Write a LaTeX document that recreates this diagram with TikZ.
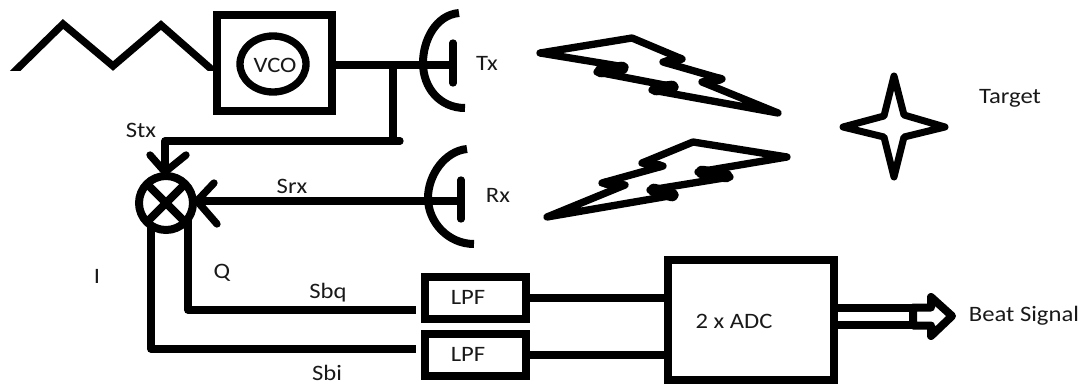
\documentclass[tikz,border=0pt]{standalone}
\usepackage{fontspec}
\usetikzlibrary{shapes.geometric}
\setmainfont[FakeStretch=1.12]{Carlito}
\tikzset{
  wire/.style={line width=6pt,line cap=butt,line join=miter},
  thick wire/.style={line width=5.5pt,line cap=round,line join=round},
  blockbox/.style={draw,line width=6pt,rectangle,inner sep=0pt,outer sep=0pt},
  lab/.style={inner sep=0pt,font=\fontsize{16.5pt}{18pt}\selectfont,text=black!90},
  bolt/.style={line width=5.5pt,line join=round,line cap=round},
}
\begin{document}
\begin{tikzpicture}[x=0.75pt,y=-0.75pt]
\useasboundingbox (0,0) rectangle (1085,385);
% blocks
\node[blockbox,minimum width=115*0.75pt,minimum height=96*0.75pt] (vco) at (274.5,63) {};
\node[draw,ellipse,line width=5.5pt,minimum width=66*0.75pt,minimum height=56*0.75pt,inner sep=0pt,outer sep=0pt] (osc) at (273,64) {};
\node[lab] (vcot) at (275,65) {VCO};
\node[blockbox,minimum width=101*0.75pt,minimum height=42*0.75pt] (lpfa) at (475.5,298) {};
\node[blockbox,minimum width=101*0.75pt,minimum height=42*0.75pt] (lpfb) at (475.5,355) {};
\node[blockbox,minimum width=166*0.75pt,minimum height=120*0.75pt] (adc) at (751,320) {};
\node[draw,circle,line width=6pt,minimum size=54*0.75pt,inner sep=0pt,outer sep=0pt] (mix) at (166,203) {};
\draw[wire] (mix.45) -- (mix.225) (mix.135) -- (mix.-45);
% ramp
\coordinate (r0) at (12,74);
\coordinate (r1) at (63,24);
\coordinate (r2) at (113,66);
\coordinate (r3) at (161,25);
\coordinate (r4) at (218,75);
\begin{scope}
\clip (0,0) rectangle (214,71);
\draw[line width=5.5pt,line join=miter] (r0) -- (r1) -- (r2) -- (r3) -- (r4);
\end{scope}
% Tx antenna
\coordinate (txf) at (453,65);
\coordinate (txa) at (459,13);
\coordinate (txb) at (465,108);
\coordinate (txt) at (453,43);
\coordinate (txu) at (453,83);
\coordinate (jn) at (393,65);
\coordinate (jd) at (393,141);
\coordinate (je) at (400,141);
\draw[wire] (txa) .. controls (436,15) and (423,40) .. (423,63) .. controls (423,88) and (440,108) .. (txb);
\draw[thick wire] (txt) -- (txu);
\draw[wire] (vco.east |- txf) -- (txf);
\draw[wire] (jn) -- (jd);
\draw[thick wire] (je) -- (165,141) -- (165,168);
\draw[thick wire] (150,155) -- (165,172) -- (186,155);
% Rx antenna
\coordinate (rxf) at (461,201);
\coordinate (rxa) at (467,149);
\coordinate (rxb) at (474,244);
\coordinate (rxt) at (461,180);
\coordinate (rxu) at (461,219);
\draw[wire] (rxa) .. controls (445,151) and (428,175) .. (428,198) .. controls (428,222) and (448,244) .. (rxb);
\draw[thick wire] (rxt) -- (rxu);
\draw[wire] (rxf) -- (mix.east |- rxf);
\draw[thick wire] (214,183) -- (197,201) -- (217,224);
% baseband
\coordinate (qe) at (416,310);
\coordinate (ie) at (416,349);
\draw[thick wire] (mix.-36) -- (mix.-36 |- qe) -- (380,310);
\draw[wire] (380,310) -- (qe);
\draw[thick wire] (mix.236) -- (mix.236 |- ie) -- (380,349);
\draw[wire] (380,349) -- (ie);
\draw[wire] (lpfa.east) -- (lpfa.east -| adc.west);
\draw[wire] (lpfb.east) -- (lpfb.east -| adc.west);
% hollow arrow
\coordinate (au) at (adc.east |- 0,308);
\coordinate (ad) at (adc.east |- 0,324.5);
\draw[wire] (au) -- (913,308) (ad) -- (913,324.5);
\draw[line width=6pt,line join=round] (913,307.5) -- (931,307.5) -- (931,297) -- (952,316) -- (931,336) -- (931,325.5) -- (913,325.5) -- cycle;
% lightning
\draw[bolt] (540,53) -- (632,38) -- (682,59) -- (663,62) -- (722,79) -- (702,82) -- (778,113) -- (652,90) -- (675,87) -- (597,72) -- (625,67) -- cycle;
\draw[bolt,line width=9.5pt] (601,71) -- (622,68) (656,89) -- (672,87);
\draw[bolt,line width=7pt] (666,62) -- (680,59) (705,82) -- (720,79);
\draw[bolt] (547,217) -- (625,185) -- (602,183) -- (663,166) -- (642,163) -- (693,142) -- (787,157) -- (698,172) -- (730,177) -- (650,190) -- (675,195) -- cycle;
\draw[bolt,line width=9.5pt] (702,172) -- (726,176) (654,190) -- (672,195);
\draw[bolt,line width=7pt] (605,183) -- (622,185) (645,163) -- (660,166);
% star
\draw[line width=5.25pt,line join=round] (894,76) -- (904,115) -- (945,127) -- (904,137) -- (894,177) -- (884,137) -- (843,127) -- (884,116) -- cycle;
% labels
\node[lab] (tx) at (487,63) {Tx};
\node[lab] (rx) at (498,195) {Rx};
\node[lab] (stx) at (141,130) {Stx};
\node[lab] (srx) at (292,186) {Srx};
\node[lab] (il) at (97,276) {I};
\node[lab] (ql) at (222,273) {Q};
\node[lab] (sbq) at (328,293) {Sbq};
\node[lab] (sbi) at (327,373) {Sbi};
\node[lab] (lpa) at (468,297) {LPF};
\node[lab] (lpb) at (468,354) {LPF};
\node[lab] (adct) at (734,321) {2 x ADC};
\node[lab] (beat) at (1024,316) {Beat Signal};
\node[lab] (tg) at (1010,98) {Target};
\end{tikzpicture}
\end{document}
